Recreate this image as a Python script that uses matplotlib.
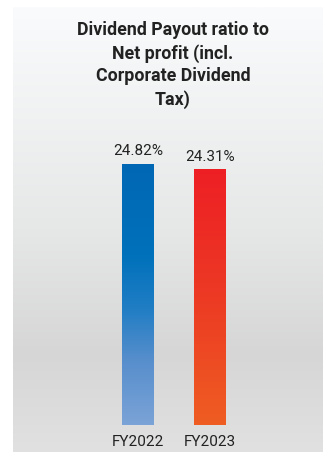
import numpy as np
import matplotlib
matplotlib.use("Agg")
import matplotlib.pyplot as plt
from matplotlib.colors import LinearSegmentedColormap

plt.rcParams['font.family'] = ['Roboto', 'DejaVu Sans']

title = "Dividend Payout ratio to\nNet profit (incl.\nCorporate Dividend\nTax)"
categories = ["FY2022", "FY2023"]
values = [24.82, 24.31]
labels = ["24.82%", "24.31%"]
bar_gradients = [
    [(0.0, "#0067b4"), (0.35, "#0071bb"), (0.55, "#1f7dc4"), (0.75, "#568ecc"), (1.0, "#7ba3d7")],
    [(0.0, "#ee1f25"), (0.5, "#ec3a24"), (1.0, "#ef5d22")],
]

W, H = 324, 454
fig = plt.figure(figsize=(W / 100, H / 100), dpi=100)
fig.patch.set_facecolor("white")

# panel in pixel coords (from top)
px0, px1, py0, py1 = 13, 323, 7, 452
ax = fig.add_axes([px0 / W, 1 - py1 / H, (px1 - px0) / W, (py1 - py0) / H])

x = np.arange(len(categories))
xscale = 72.0
x0_px = 138.0
base_px = 425.0
yscale = 261.0 / 24.82
ax.set_xlim((px0 - x0_px) / xscale, (px1 - x0_px) / xscale)
ax.set_ylim(-(py1 - base_px) / yscale, (base_px - py0) / yscale)
ax.axis("off")

# background gradient
bg_cmap = LinearSegmentedColormap.from_list(
    "bg", [(0.0, "#fafbfc"), (0.5, "#e6e7e7"), (0.78, "#d6d6d6"), (1.0, "#e1e1e1")])
grad = np.linspace(0, 1, 256).reshape(-1, 1)
xl, yl = ax.get_xlim(), ax.get_ylim()
ax.imshow(grad, cmap=bg_cmap, aspect="auto", extent=[xl[0], xl[1], yl[0], yl[1]],
          origin="upper", zorder=0, interpolation="bilinear")

bw = 32.0 / xscale
bars = ax.bar(x, values, width=bw, color="none", zorder=2)
for b, stops in zip(bars, bar_gradients):
    cm = LinearSegmentedColormap.from_list("g", stops)
    bx, by = b.get_x(), b.get_y()
    im = ax.imshow(grad, cmap=cm, aspect="auto",
                   extent=[bx, bx + b.get_width(), by, by + b.get_height()],
                   origin="upper", zorder=2, interpolation="bilinear")
    im.set_clip_path(b)

for xi, v, lab in zip(x, values, labels):
    ax.annotate(lab, (xi, v), xytext=(0, 4), textcoords="offset points",
                ha="center", va="bottom", fontsize=11, color="#222222", zorder=3)
for xi, c in zip(x, categories):
    ax.annotate(c, (xi, 0), xytext=(0, -7), textcoords="offset points",
                ha="center", va="top", fontsize=11, color="#222222", zorder=3)

ax.set_xlim(xl)
ax.set_ylim(yl)

fig.text(173 / W, 1 - 21 / H, title, ha="center", va="top", multialignment="center",
         fontsize=12.8, fontweight="bold", color="#222222", linespacing=1.33)

fig.savefig("out.png", dpi=100)
